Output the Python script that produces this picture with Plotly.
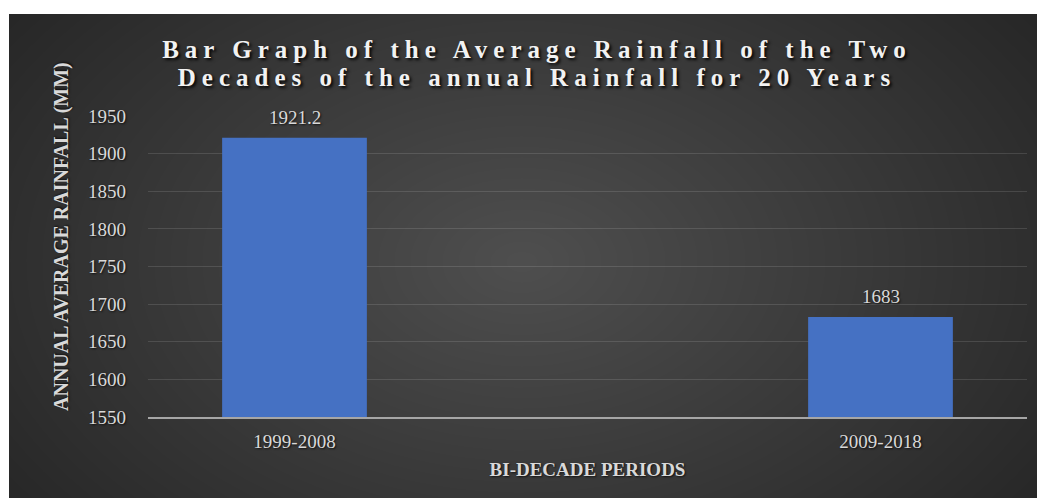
import plotly.graph_objects as go

# Bi-decade average annual rainfall (mm)
periods = ["1999-2008", "2009-2018"]
avg_rainfall = [1921.2, 1683]
label_text = ["1921.2", "1683"]
y_ticks = [1550, 1600, 1650, 1700, 1750, 1800, 1850, 1900, 1950]

W, H = 1040, 498
ML, MR, MT, MB = 148, 13, 116, 81
PW, PH = W - ML - MR, H - MT - MB


def px_x(px):
    return (px - ML) / PW


def px_y(py):
    return (H - MB - py) / PH


SERIF = "Liberation Serif, Times New Roman, serif"
LABEL = "#d9d9d9"
SHADOW = "1px 1px 2px rgba(0,0,0,0.7)"

fig = go.Figure(
    go.Bar(
        x=periods,
        y=avg_rainfall,
        marker=dict(color="#4571C3", line=dict(width=0)),
        width=0.247,
    )
)

# value labels sit a little above each bar
for p, v, t in zip(periods, avg_rainfall, label_text):
    fig.add_annotation(x=p, y=v, text=t, showarrow=False, yanchor="bottom", yshift=8,
                       font=dict(family=SERIF, size=19, color=LABEL, shadow=SHADOW))

# vertical value-axis title, set a little above the plot's middle
fig.add_annotation(xref="paper", yref="paper", x=px_x(61), y=px_y(237),
                   xanchor="center", yanchor="middle", textangle=-90, showarrow=False,
                   text="ANNUAL AVERAGE RAINFALL (MM)",
                   font=dict(family=SERIF, size=20, color=LABEL, weight="bold", shadow=SHADOW))

# dark panel with a soft radial glow towards the middle
shapes = [
    dict(type="rect", xref="paper", yref="paper", layer="below",
         x0=px_x(9), x1=px_x(1037), y0=px_y(498), y1=px_y(14),
         fillcolor="#262626", line=dict(width=0))
]
cx, cy = 522, 262
n = 40
for i in range(n):
    f = 1 - i / n
    rx, ry = 640 * f, 420 * f
    shapes.append(dict(
        type="circle", xref="paper", yref="paper", layer="below",
        x0=px_x(cx - rx), x1=px_x(cx + rx), y0=px_y(cy + ry), y1=px_y(cy - ry),
        fillcolor="white", opacity=0.0068, line=dict(width=0)))

fig.update_layout(
    width=W, height=H, autosize=False,
    margin=dict(l=ML, r=MR, t=MT, b=MB),
    paper_bgcolor="white",
    plot_bgcolor="rgba(0,0,0,0)",
    shapes=shapes,
    showlegend=False,
    title=dict(
        text="Bar Graph of the Average Rainfall of the Two<br>Decades of the annual Rainfall for 20 Years",
        x=537 / W, xref="container", xanchor="center",
        y=1 - 58 / H, yref="container", yanchor="middle",
        font=dict(family=SERIF, size=25, color="#f2f2f2", weight="bold",
                  shadow="2px 2px 3px rgba(0,0,0,0.9)"),
    ),
    xaxis=dict(
        range=[-0.25, 1.25],
        showgrid=False, showline=True, linecolor="#a6a6a6", linewidth=2,
        ticks="", ticklabelstandoff=6,
        tickfont=dict(family=SERIF, size=19, color=LABEL, shadow=SHADOW),
        title=dict(text="BI-DECADE PERIODS", standoff=12,
                   font=dict(family=SERIF, size=19, color=LABEL, weight="bold", shadow=SHADOW)),
    ),
    yaxis=dict(
        range=[1550, 1950], tickvals=y_ticks, showline=False, zeroline=False,
        gridcolor="rgba(255,255,255,0.12)", gridwidth=1,
        ticks="", ticklabelstandoff=21,
        tickfont=dict(family=SERIF, size=19, color=LABEL, shadow=SHADOW),
    ),
)

# wider letter spacing and a set line pitch for the two-line title
post = """
var gd = document.getElementsByClassName('plotly-graph-div')[0];
gd.querySelectorAll('.gtitle').forEach(function(t){
  t.style.letterSpacing = '6px';
  t.querySelectorAll('tspan.line').forEach(function(s, i){ if (i > 0) s.setAttribute('dy', '28px'); });
});
"""

fig.write_html("out.html", post_script=post)
